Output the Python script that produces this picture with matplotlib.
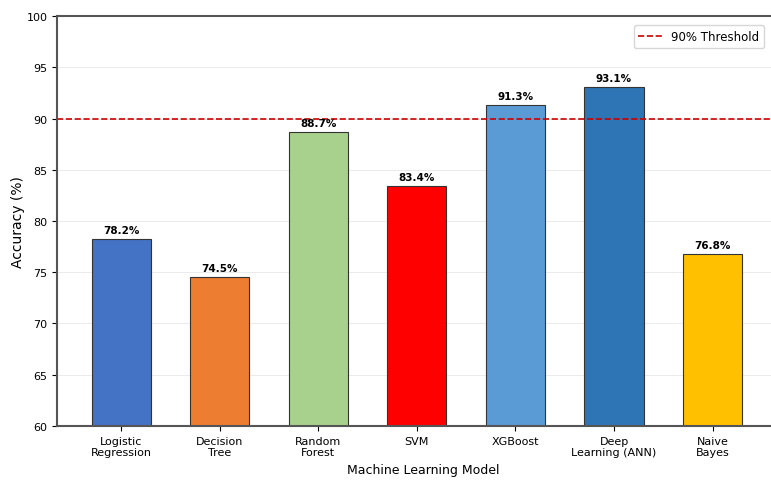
import matplotlib.pyplot as plt
import numpy as np

models = ["Logistic\nRegression", "Decision\nTree", "Random\nForest", "SVM",
          "XGBoost", "Deep\nLearning (ANN)", "Naive\nBayes"]
accuracy = [78.2, 74.5, 88.7, 83.4, 91.3, 93.1, 76.8]
colors = ["#4472C4", "#ED7D31", "#A9D18E", "#FF0000", "#5B9BD5", "#2E75B6", "#FFC000"]
threshold = 90

fig = plt.figure(figsize=(7.71, 4.89), dpi=100)
# axes runs past the right edge, like the cropped original
ax = fig.add_axes([0.074, 0.127, 0.95, 0.838])

x = np.arange(len(models))
bars = ax.bar(x, accuracy, width=0.6, color=colors, edgecolor="#333333", linewidth=0.8)

for b, v in zip(bars, accuracy):
    ax.text(b.get_x() + b.get_width() / 2, v + 0.4, f"{v}%",
            ha="center", va="bottom", fontsize=7.5, fontweight="bold")

ax.axhline(threshold, color="#CC0000", linestyle="--", linewidth=1.2, label="90% Threshold")

ax.set_ylim(60, 100)
ax.set_xlim(-0.65, 6.78)
ax.set_yticks(range(60, 101, 5))
ax.set_xticks(x)
ax.set_xticklabels(models, fontsize=8)
ax.tick_params(axis="y", labelsize=8)
ax.yaxis.grid(True, color="#dddddd", linewidth=0.6, alpha=0.7)
ax.set_axisbelow(True)

for s in ax.spines.values():
    s.set_color("#555555")
    s.set_linewidth(1.5)

ax.set_ylabel("Accuracy (%)", fontsize=10, labelpad=1)
ax.set_xlabel("Machine Learning Model", fontsize=9)
# keep the legend inside the visible picture
ax.legend(loc="upper right", bbox_to_anchor=(0.999, 0.958),
          bbox_transform=fig.transFigure, fontsize=8.5)

plt.savefig("out.png", dpi=100)
